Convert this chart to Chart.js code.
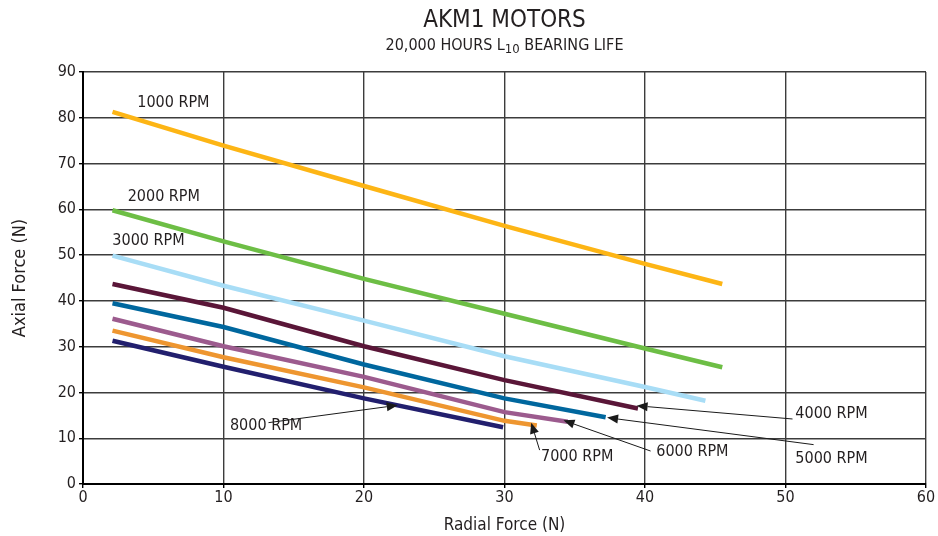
<!DOCTYPE html>
<html><head><meta charset="utf-8">
<script src="https://cdn.jsdelivr.net/npm/chart.js@4/dist/chart.umd.min.js"></script>
<style>html,body{margin:0;padding:0;background:#fff}#wrap{width:938px;height:536px;position:relative}</style>
</head><body><div id="wrap"><canvas id="c" width="938" height="536"></canvas></div>
<script>
// ---- data ----
const seriesNames = ['1000 RPM','2000 RPM','3000 RPM','4000 RPM','5000 RPM','6000 RPM','7000 RPM','8000 RPM'];
const x1000 = [2.1, 10, 20, 30, 40, 45.5];
const y1000 = [81.3, 73.9, 65.1, 56.4, 48.1, 43.7];
const x2000 = [2.1, 10, 20, 30, 40, 45.5];
const y2000 = [59.8, 53.0, 44.8, 37.2, 29.6, 25.5];
const x3000 = [2.1, 10, 20, 30, 40, 44.3];
const y3000 = [49.9, 43.3, 35.7, 27.9, 21.2, 18.2];
const x4000 = [2.1, 10, 20, 30, 39.5];
const y4000 = [43.7, 38.5, 30.1, 22.7, 16.5];
const x5000 = [2.1, 10, 20, 30, 37.2];
const y5000 = [39.5, 34.3, 26.1, 18.7, 14.6];
const x6000 = [2.1, 10, 20, 30, 34.5];
const y6000 = [36.1, 30.1, 23.4, 15.7, 13.6];
const x7000 = [2.1, 10, 20, 30, 32.3];
const y7000 = [33.5, 27.7, 21.1, 13.8, 12.8];
const x8000 = [2.1, 10, 20, 29.9];
const y8000 = [31.3, 25.6, 18.7, 12.4];
const xTicks = [0, 10, 20, 30, 40, 50, 60];
const yTicks = [0, 10, 20, 30, 40, 50, 60, 70, 80, 90];
// label anchors (data units: left edge, vertical centre)
const labelX = [3.86, 3.18, 2.09, 50.7, 50.7, 40.8, 32.6, 10.46];
const labelY = [83.2, 62.7, 53.2, 15.4, 5.4, 7.0, 5.9, 12.7];
// leader arrows (data units), null = none
const arrowFromX = [null, null, null, 50.5, 52.0, 40.4, 32.5, 13.2];
const arrowFromY = [null, null, null, 14.2, 8.6, 7.2, 7.4, 13.4];
const arrowToX = [null, null, null, 39.4, 37.3, 34.2, 31.9, 22.4];
const arrowToY = [null, null, null, 17.1, 14.5, 13.9, 13.4, 17.2];

const colors = ['#FDB515', '#6DBE45', '#A8DDF6', '#5A1638', '#00679E', '#9C5B8E', '#EE9630', '#221F6E'];
const xs = [x1000, x2000, x3000, x4000, x5000, x6000, x7000, x8000];
const ys = [y1000, y2000, y3000, y4000, y5000, y6000, y7000, y8000];

const FONT = '"Liberation Sans Narrow", "DejaVu Sans Condensed", "Arial Narrow", sans-serif';

const datasets = seriesNames.map((n, i) => ({
  label: n,
  data: xs[i].map((x, j) => ({x: x, y: ys[i][j]})),
  borderColor: colors[i],
  backgroundColor: colors[i],
  borderWidth: 4.5,
  borderCapStyle: 'butt',
  showLine: true,
  pointRadius: 0,
  tension: 0
}));

const annotPlugin = {
  id: 'annot',
  afterDatasetsDraw(chart) {
    const ctx = chart.ctx;
    const xs_ = chart.scales.x, ys_ = chart.scales.y;
    ctx.save();
    // arrows
    for (let i = 0; i < seriesNames.length; i++) {
      if (arrowFromX[i] === null) continue;
      const x0 = xs_.getPixelForValue(arrowFromX[i]), y0 = ys_.getPixelForValue(arrowFromY[i]);
      const x1 = xs_.getPixelForValue(arrowToX[i]), y1 = ys_.getPixelForValue(arrowToY[i]);
      const ang = Math.atan2(y1 - y0, x1 - x0);
      const L = 11, W = 4.5;
      const bx = x1 - L * Math.cos(ang), by = y1 - L * Math.sin(ang);
      ctx.strokeStyle = '#1a1a1a';
      ctx.lineWidth = 1;
      ctx.beginPath(); ctx.moveTo(x0, y0); ctx.lineTo(bx, by); ctx.stroke();
      ctx.fillStyle = '#1a1a1a';
      ctx.beginPath();
      ctx.moveTo(x1, y1);
      ctx.lineTo(bx + W * Math.sin(ang), by - W * Math.cos(ang));
      ctx.lineTo(bx - W * Math.sin(ang), by + W * Math.cos(ang));
      ctx.closePath(); ctx.fill();
    }
    // labels
    ctx.font = '16px ' + FONT;
    ctx.fillStyle = '#231f20';
    ctx.textAlign = 'left';
    ctx.textBaseline = 'middle';
    for (let i = 0; i < seriesNames.length; i++) {
      ctx.fillText(seriesNames[i], xs_.getPixelForValue(labelX[i]), ys_.getPixelForValue(labelY[i]));
    }
    ctx.restore();
  },
  afterDraw(chart) {
    const ctx = chart.ctx;
    const ca = chart.chartArea;
    const cx = (ca.left + ca.right) / 2;
    ctx.save();
    ctx.fillStyle = '#231f20';
    ctx.textBaseline = 'alphabetic';
    ctx.textAlign = 'center';
    ctx.font = '24px ' + FONT;
    ctx.fillText('AKM1 MOTORS', cx, 27);
    // subtitle with subscript
    const big = '16px ' + FONT, small = '13px ' + FONT;
    const p1 = '20,000 HOURS L', p2 = '10', p3 = ' BEARING LIFE';
    ctx.font = big; const w1 = ctx.measureText(p1).width, w3 = ctx.measureText(p3).width;
    ctx.font = small; const w2 = ctx.measureText(p2).width;
    let x = cx - (w1 + w2 + w3) / 2;
    const base = 50;
    ctx.textAlign = 'left';
    ctx.font = big; ctx.fillText(p1, x, base); x += w1;
    ctx.font = small; ctx.fillText(p2, x, base + 3); x += w2;
    ctx.font = big; ctx.fillText(p3, x, base);
    ctx.restore();
  }
};

new Chart(document.getElementById('c'), {
  type: 'scatter',
  data: { datasets: datasets },
  plugins: [annotPlugin],
  options: {
    responsive: false,
    animation: false,
    devicePixelRatio: 1,
    layout: { padding: { top: 72, right: 12, left: 0, bottom: 0 } },
    plugins: { legend: { display: false }, tooltip: { enabled: false }, title: { display: false } },
    scales: {
      x: {
        type: 'linear', min: 0, max: 60,
        afterBuildTicks(s) { s.ticks = xTicks.map(v => ({value: v})); },
        afterFit(s) { s.height = 52; },
        grid: { color: '#3c3c3c', lineWidth: 1.4, tickLength: 4, tickColor: '#000' },
        border: { color: '#000', width: 2 },
        ticks: { color: '#231f20', font: { family: FONT, size: 16 }, padding: 0, maxRotation: 0 },
        title: { display: true, text: 'Radial Force (N)', color: '#231f20', font: { family: FONT, size: 17 }, padding: { top: 2, bottom: 0 } }
      },
      y: {
        type: 'linear', min: 0, max: 90,
        afterBuildTicks(s) { s.ticks = yTicks.map(v => ({value: v})); },
        afterFit(s) { s.width = 83; },
        grid: { color: '#3c3c3c', lineWidth: 1.4, tickLength: 4, tickColor: '#000' },
        border: { color: '#000', width: 2 },
        ticks: { color: '#231f20', font: { family: FONT, size: 16 }, padding: 3 },
        title: { display: true, text: 'Axial Force (N)', color: '#231f20', font: { family: FONT, size: 18 }, padding: { top: 10, bottom: 0 } }
      }
    }
  }
});
</script></body></html>
